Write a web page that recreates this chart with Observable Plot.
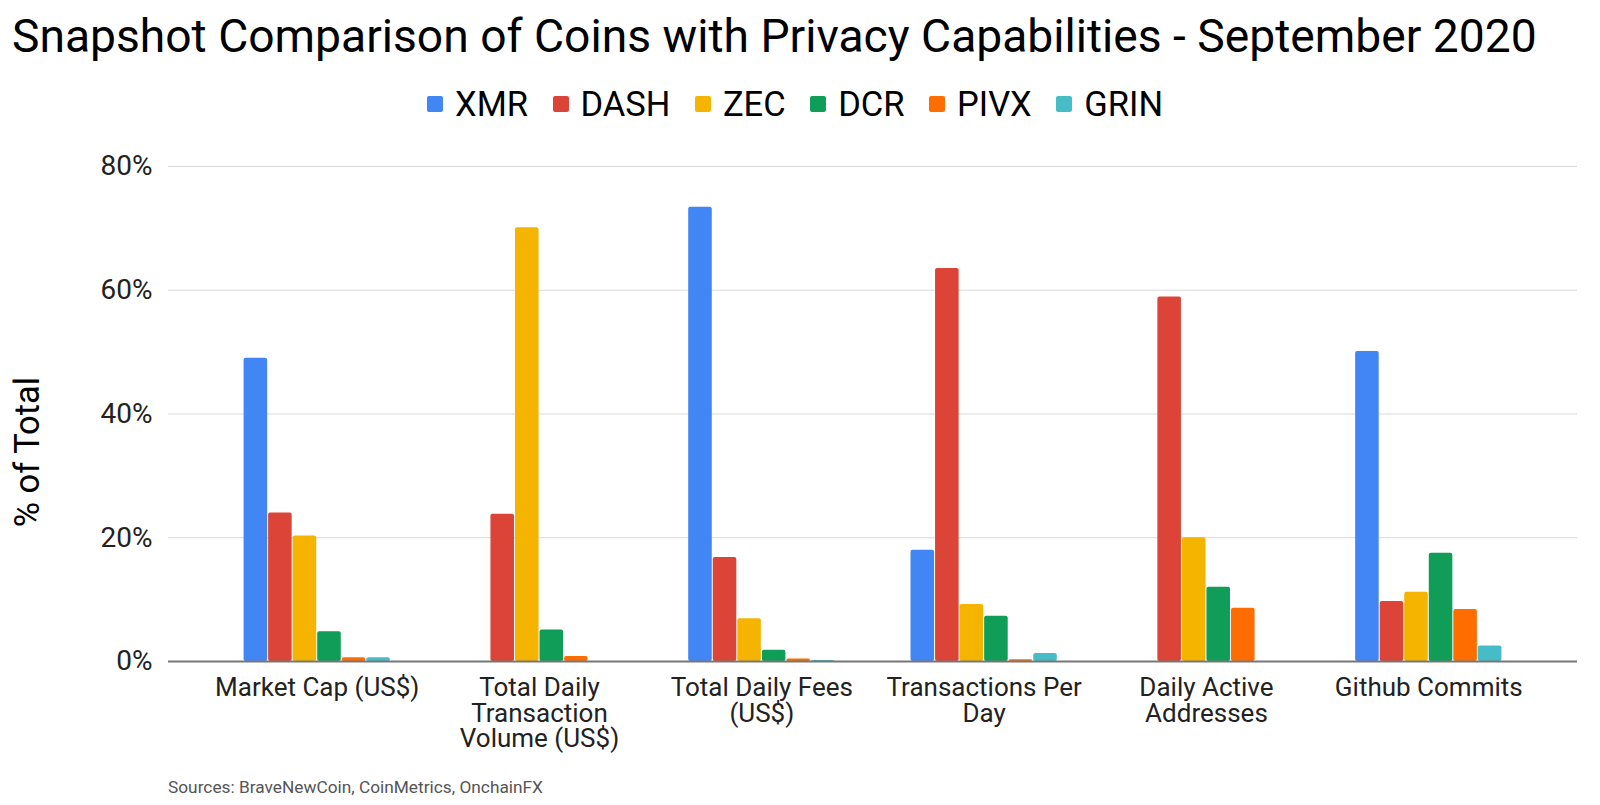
<!DOCTYPE html>
<html><head><meta charset="utf-8">
<script src="https://cdn.jsdelivr.net/npm/d3@7"></script>
<script src="https://cdn.jsdelivr.net/npm/@observablehq/plot@0.6"></script>
<style>
body{margin:0;background:#fff;font-family:Roboto,sans-serif;}
#wrap{position:relative;width:1600px;height:805px;overflow:hidden;}
#title{position:absolute;left:12px;top:13px;font-size:46.2px;line-height:46px;white-space:nowrap;color:#000;}
#legend{position:absolute;left:427px;top:87px;display:flex;align-items:center;font-size:34.5px;line-height:34px;color:#000;white-space:nowrap;}
#legend .item{display:flex;align-items:center;margin-right:24.5px;}
#legend .sw{width:16px;height:16px;border-radius:2px;margin-right:12px;}
.layer{position:absolute;left:0;top:140px;}
#ylabel{position:absolute;left:27px;top:452px;transform:translate(-50%,-50%) rotate(-90deg);font-size:34.5px;white-space:nowrap;color:#000;}
#source{position:absolute;left:168px;top:777px;font-size:17.3px;line-height:20px;color:#555;white-space:nowrap;}
</style></head>
<body>
<div id="wrap">
  <div id="title">Snapshot Comparison of Coins with Privacy Capabilities - September 2020</div>
  <div id="legend"></div>
  <div id="grid" class="layer"></div>
  <div id="bars" class="layer"></div>
  <div id="base" class="layer"></div>
  <div id="ylabel">% of Total</div>
  <div id="source">Sources: BraveNewCoin, CoinMetrics, OnchainFX</div>
</div>
<script>
const categories = ["Market Cap (US$)", "Total Daily Transaction Volume (US$)", "Total Daily Fees (US$)", "Transactions Per Day", "Daily Active Addresses", "Github Commits"];
const categoryLabels = ["Market Cap (US$)", "Total Daily\nTransaction\nVolume (US$)", "Total Daily Fees\n(US$)", "Transactions Per\nDay", "Daily Active\nAddresses", "Github Commits"];
const series = ["XMR", "DASH", "ZEC", "DCR", "PIVX", "GRIN"];
const colors = ["#4285F4", "#DB4437", "#F4B400", "#0F9D58", "#FF6D00", "#46BDC6"];
const xmr  = [49.0, null, 73.4, 18.0, null, 50.1];
const dash = [24.0, 23.8, 16.8, 63.5, 58.9, 9.7];
const zec  = [20.3, 70.1, 6.9, 9.2, 20.0, 11.2];
const dcr  = [4.8, 5.1, 1.8, 7.3, 12.0, 17.5];
const pivx = [0.6, 0.8, 0.4, 0.3, 8.6, 8.4];
const grin = [0.6, null, 0.15, 1.3, null, 2.5];
const yTicks = [0, 20, 40, 60, 80];

const seriesValues = [xmr, dash, zec, dcr, pivx, grin];
const data = [];
categories.forEach((c, ci) => series.forEach((s, si) => {
  const v = seriesValues[si][ci];
  if (v != null) data.push({category: c, series: s, value: v});
}));
const labelOf = new Map(categories.map((c, i) => [c, categoryLabels[i]]));

// legend
const lg = d3.select("#legend");
series.forEach((s, i) => {
  const it = lg.append("div").attr("class", "item");
  it.append("div").attr("class", "sw").style("background", colors[i]);
  it.append("span").text(s);
});

const common = {
  width: 1600,
  height: 625,
  marginTop: 26,
  marginBottom: 104,
  marginLeft: 168,
  marginRight: 23,
  style: {fontFamily: "Roboto, sans-serif", background: "transparent"},
  y: {domain: [0, 80], label: null}
};

// background: gridlines and y axis
const gridPlot = Plot.plot({
  ...common,
  marks: [
    Plot.ruleY(yTicks.filter(d => d > 0), {stroke: "#d9d9d9", strokeWidth: 1}),
    Plot.axisY({ticks: yTicks, tickSize: 0, tickPadding: 16, tickFormat: d => d + "%", fontSize: 28, fill: "#222", label: null})
  ]
});
document.getElementById("grid").appendChild(gridPlot);

// bars, faceted by category
const barPlot = Plot.plot({
  ...common,
  fx: {domain: categories, paddingInner: 0.342, paddingOuter: 0.34, round: false, label: null},
  x: {domain: series, paddingInner: 0.04, paddingOuter: 0, round: false, axis: null},
  color: {domain: series, range: colors},
  marks: [
    Plot.barY(data, {fx: "category", x: "series", y: "value", fill: "series", rx: 2}),
    Plot.axisFx({anchor: "bottom", tickSize: 0, tickPadding: 17, fontSize: 26, lineHeight: 0.97, fill: "#222", tickFormat: d => labelOf.get(d), label: null}),
    Plot.axisY({ticks: [], label: null, tickSize: 0})
  ]
});
document.getElementById("bars").appendChild(barPlot);

// front: zero baseline
const basePlot = Plot.plot({
  ...common,
  marks: [
    Plot.ruleY([0], {stroke: "#777", strokeWidth: 2}),
    Plot.axisY({ticks: [], label: null, tickSize: 0})
  ]
});
document.getElementById("base").appendChild(basePlot);
</script>
</body></html>
